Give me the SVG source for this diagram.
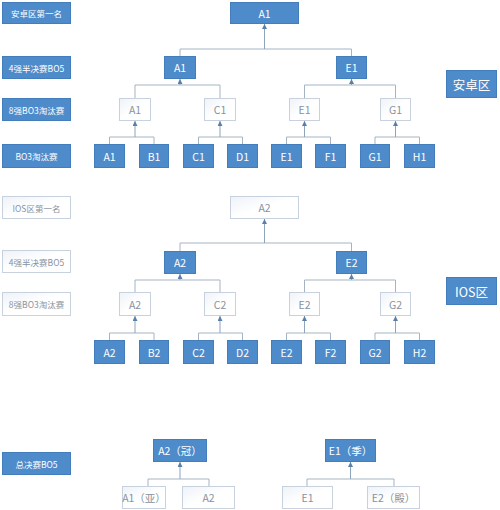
<svg xmlns="http://www.w3.org/2000/svg" width="500" height="510" viewBox="0 0 500 510">
<defs>
<linearGradient id="wg" x1="0" y1="0" x2="1" y2="1">
<stop offset="0" stop-color="#eef2f8"/>
<stop offset="0.5" stop-color="#ffffff"/>
<stop offset="1" stop-color="#ffffff"/>
</linearGradient>
<marker id="ar" viewBox="0 0 6 6" refX="6" refY="3" markerWidth="5" markerHeight="5" orient="auto" markerUnits="userSpaceOnUse">
<path d="M0,0 L6,3 L0,6 Z" fill="#5a7fa8"/>
</marker>
<style>
.b{fill:#4e8bca;stroke:#437dbb;stroke-width:1}
.w{fill:url(#wg);stroke:#c8d2de;stroke-width:1}
text{font-family:"Noto Sans CJK SC","Liberation Sans",sans-serif;text-anchor:middle;dominant-baseline:central}
.tb{fill:#ffffff;font-size:10.5px}
.tw{fill:#8793a0;font-size:10.5px}
.lb{fill:#ffffff;font-size:8.5px}
.lw{fill:#8793a0;font-size:8.5px}
.big{fill:#ffffff;font-size:12.5px}
.c{fill:none;stroke:#a5b4c3;stroke-width:1}
.s{fill:none;stroke:#8ea4bb;stroke-width:1;marker-end:url(#ar)}
</style>
</defs>

<!-- Connectors -->
<g id="connectors">
<!-- Android -->
<path class="c" d="M180,56 V49 H351.5 V56"/>
<path class="s" d="M264.5,49 V24"/>
<path class="c" d="M135,98 V85 H220 V98"/>
<path class="s" d="M180,85 V79"/>
<path class="c" d="M304.5,98 V85 H395.5 V98"/>
<path class="s" d="M351.5,85 V79"/>
<path class="c" d="M109.5,144 V137 H154 V144"/>
<path class="s" d="M135,137 V121"/>
<path class="c" d="M198.5,144 V137 H242.5 V144"/>
<path class="s" d="M220,137 V121"/>
<path class="c" d="M286.5,144 V137 H330.5 V144"/>
<path class="s" d="M304.5,137 V121"/>
<path class="c" d="M375,144 V137 H419.5 V144"/>
<path class="s" d="M395.5,137 V121"/>
<!-- IOS -->
<path class="c" d="M180,251 V243 H351.5 V251"/>
<path class="s" d="M264.5,243 V219"/>
<path class="c" d="M135,292 V280 H220 V292"/>
<path class="s" d="M180,280 V274"/>
<path class="c" d="M304.5,292 V280 H395.5 V292"/>
<path class="s" d="M351.5,280 V274"/>
<path class="c" d="M109.5,340 V333 H154 V340"/>
<path class="s" d="M135,333 V316"/>
<path class="c" d="M198.5,340 V333 H242.5 V340"/>
<path class="s" d="M220,333 V316"/>
<path class="c" d="M286.5,340 V333 H330.5 V340"/>
<path class="s" d="M304.5,333 V316"/>
<path class="c" d="M375,340 V333 H419.5 V340"/>
<path class="s" d="M395.5,333 V316"/>
<!-- Final -->
<path class="c" d="M148,486 V479 H209 V486"/>
<path class="s" d="M180,479 V462"/>
<path class="c" d="M307,486 V479 H394 V486"/>
<path class="s" d="M350.5,479 V462"/>
</g>

<!-- Row labels -->
<g id="lbl-android-1"><rect class="b" x="2.5" y="2.5" width="68" height="21"/><text class="lb" x="36.5" y="13">安卓区第一名</text></g>
<g id="lbl-android-2"><rect class="b" x="2.5" y="56.5" width="68" height="22"/><text class="lb" x="36.5" y="67.5">4强半决赛BO5</text></g>
<g id="lbl-android-3"><rect class="b" x="2.5" y="98.5" width="68" height="22"/><text class="lb" x="36.5" y="109.5">8强BO3淘汰赛</text></g>
<g id="lbl-android-4"><rect class="b" x="2.5" y="144.5" width="68" height="23"/><text class="lb" x="36.5" y="156">BO3淘汰赛</text></g>
<g id="lbl-ios-1"><rect class="w" x="2.5" y="196.5" width="68" height="22"/><text class="lw" x="36.5" y="207.5">IOS区第一名</text></g>
<g id="lbl-ios-2"><rect class="w" x="2.5" y="250.5" width="68" height="22"/><text class="lw" x="36.5" y="261.5">4强半决赛BO5</text></g>
<g id="lbl-ios-3"><rect class="w" x="2.5" y="292.5" width="68" height="23"/><text class="lw" x="36.5" y="304">8强BO3淘汰赛</text></g>
<g id="lbl-final"><rect class="b" x="2.5" y="452.5" width="68" height="22"/><text class="lb" x="36.5" y="463.5">总决赛BO5</text></g>

<!-- Zone labels -->
<g id="zone-android"><rect class="b" x="446.5" y="70.5" width="50" height="27"/><text class="big" x="471.5" y="84">安卓区</text></g>
<g id="zone-ios"><rect class="b" x="446.5" y="277.5" width="50" height="27"/><text class="big" x="471.5" y="291">IOS区</text></g>

<!-- Android tree -->
<g id="a-top"><rect class="b" x="230.5" y="2.5" width="68" height="21"/><text class="tb" x="264.5" y="13">A1</text></g>
<g id="a-semi-A1"><rect class="b" x="164.5" y="56.5" width="31" height="22"/><text class="tb" x="180" y="67.5">A1</text></g>
<g id="a-semi-E1"><rect class="b" x="336.5" y="56.5" width="30" height="22"/><text class="tb" x="351.5" y="67.5">E1</text></g>
<g id="a-q-A1"><rect class="w" x="119.5" y="98.5" width="31" height="22"/><text class="tw" x="135" y="109.5">A1</text></g>
<g id="a-q-C1"><rect class="w" x="204.5" y="98.5" width="31" height="22"/><text class="tw" x="220" y="109.5">C1</text></g>
<g id="a-q-E1"><rect class="w" x="289.5" y="98.5" width="30" height="22"/><text class="tw" x="304.5" y="109.5">E1</text></g>
<g id="a-q-G1"><rect class="w" x="380.5" y="98.5" width="30" height="22"/><text class="tw" x="395.5" y="109.5">G1</text></g>
<g id="a-l-A1"><rect class="b" x="94.5" y="144.5" width="30" height="23"/><text class="tb" x="109.5" y="156">A1</text></g>
<g id="a-l-B1"><rect class="b" x="139.5" y="144.5" width="29" height="23"/><text class="tb" x="154" y="156">B1</text></g>
<g id="a-l-C1"><rect class="b" x="183.5" y="144.5" width="30" height="23"/><text class="tb" x="198.5" y="156">C1</text></g>
<g id="a-l-D1"><rect class="b" x="227.5" y="144.5" width="30" height="23"/><text class="tb" x="242.5" y="156">D1</text></g>
<g id="a-l-E1"><rect class="b" x="271.5" y="144.5" width="30" height="23"/><text class="tb" x="286.5" y="156">E1</text></g>
<g id="a-l-F1"><rect class="b" x="315.5" y="144.5" width="30" height="23"/><text class="tb" x="330.5" y="156">F1</text></g>
<g id="a-l-G1"><rect class="b" x="360.5" y="144.5" width="29" height="23"/><text class="tb" x="375" y="156">G1</text></g>
<g id="a-l-H1"><rect class="b" x="404.5" y="144.5" width="30" height="23"/><text class="tb" x="419.5" y="156">H1</text></g>

<!-- IOS tree -->
<g id="i-top"><rect class="w" x="230.5" y="196.5" width="68" height="22"/><text class="tw" x="264.5" y="207.5">A2</text></g>
<g id="i-semi-A2"><rect class="b" x="164.5" y="251.5" width="31" height="22"/><text class="tb" x="180" y="262.5">A2</text></g>
<g id="i-semi-E2"><rect class="b" x="336.5" y="251.5" width="30" height="22"/><text class="tb" x="351.5" y="262.5">E2</text></g>
<g id="i-q-A2"><rect class="w" x="119.5" y="292.5" width="31" height="23"/><text class="tw" x="135" y="304">A2</text></g>
<g id="i-q-C2"><rect class="w" x="204.5" y="292.5" width="31" height="23"/><text class="tw" x="220" y="304">C2</text></g>
<g id="i-q-E2"><rect class="w" x="289.5" y="292.5" width="30" height="23"/><text class="tw" x="304.5" y="304">E2</text></g>
<g id="i-q-G2"><rect class="w" x="380.5" y="292.5" width="30" height="23"/><text class="tw" x="395.5" y="304">G2</text></g>
<g id="i-l-A2"><rect class="b" x="94.5" y="340.5" width="30" height="23"/><text class="tb" x="109.5" y="352">A2</text></g>
<g id="i-l-B2"><rect class="b" x="139.5" y="340.5" width="29" height="23"/><text class="tb" x="154" y="352">B2</text></g>
<g id="i-l-C2"><rect class="b" x="183.5" y="340.5" width="30" height="23"/><text class="tb" x="198.5" y="352">C2</text></g>
<g id="i-l-D2"><rect class="b" x="227.5" y="340.5" width="30" height="23"/><text class="tb" x="242.5" y="352">D2</text></g>
<g id="i-l-E2"><rect class="b" x="271.5" y="340.5" width="30" height="23"/><text class="tb" x="286.5" y="352">E2</text></g>
<g id="i-l-F2"><rect class="b" x="315.5" y="340.5" width="30" height="23"/><text class="tb" x="330.5" y="352">F2</text></g>
<g id="i-l-G2"><rect class="b" x="360.5" y="340.5" width="29" height="23"/><text class="tb" x="375" y="352">G2</text></g>
<g id="i-l-H2"><rect class="b" x="404.5" y="340.5" width="30" height="23"/><text class="tb" x="419.5" y="352">H2</text></g>

<!-- Final -->
<g id="f-champ"><rect class="b" x="153.5" y="439.5" width="53" height="22"/><text class="tb" x="180" y="450.5">A2（冠）</text></g>
<g id="f-third"><rect class="b" x="325.5" y="439.5" width="50" height="22"/><text class="tb" x="350.5" y="450.5">E1（季）</text></g>
<g id="f-A1"><rect class="w" x="122.5" y="486.5" width="43" height="22"/><text class="tw" x="144" y="497.5">A1（亚）</text></g>
<g id="f-A2"><rect class="w" x="182.5" y="486.5" width="52" height="22"/><text class="tw" x="208.5" y="497.5">A2</text></g>
<g id="f-E1"><rect class="w" x="282.5" y="486.5" width="50" height="22"/><text class="tw" x="307.5" y="497.5">E1</text></g>
<g id="f-E2"><rect class="w" x="367.5" y="486.5" width="52" height="22"/><text class="tw" x="393.5" y="497.5">E2（殿）</text></g>
</svg>
